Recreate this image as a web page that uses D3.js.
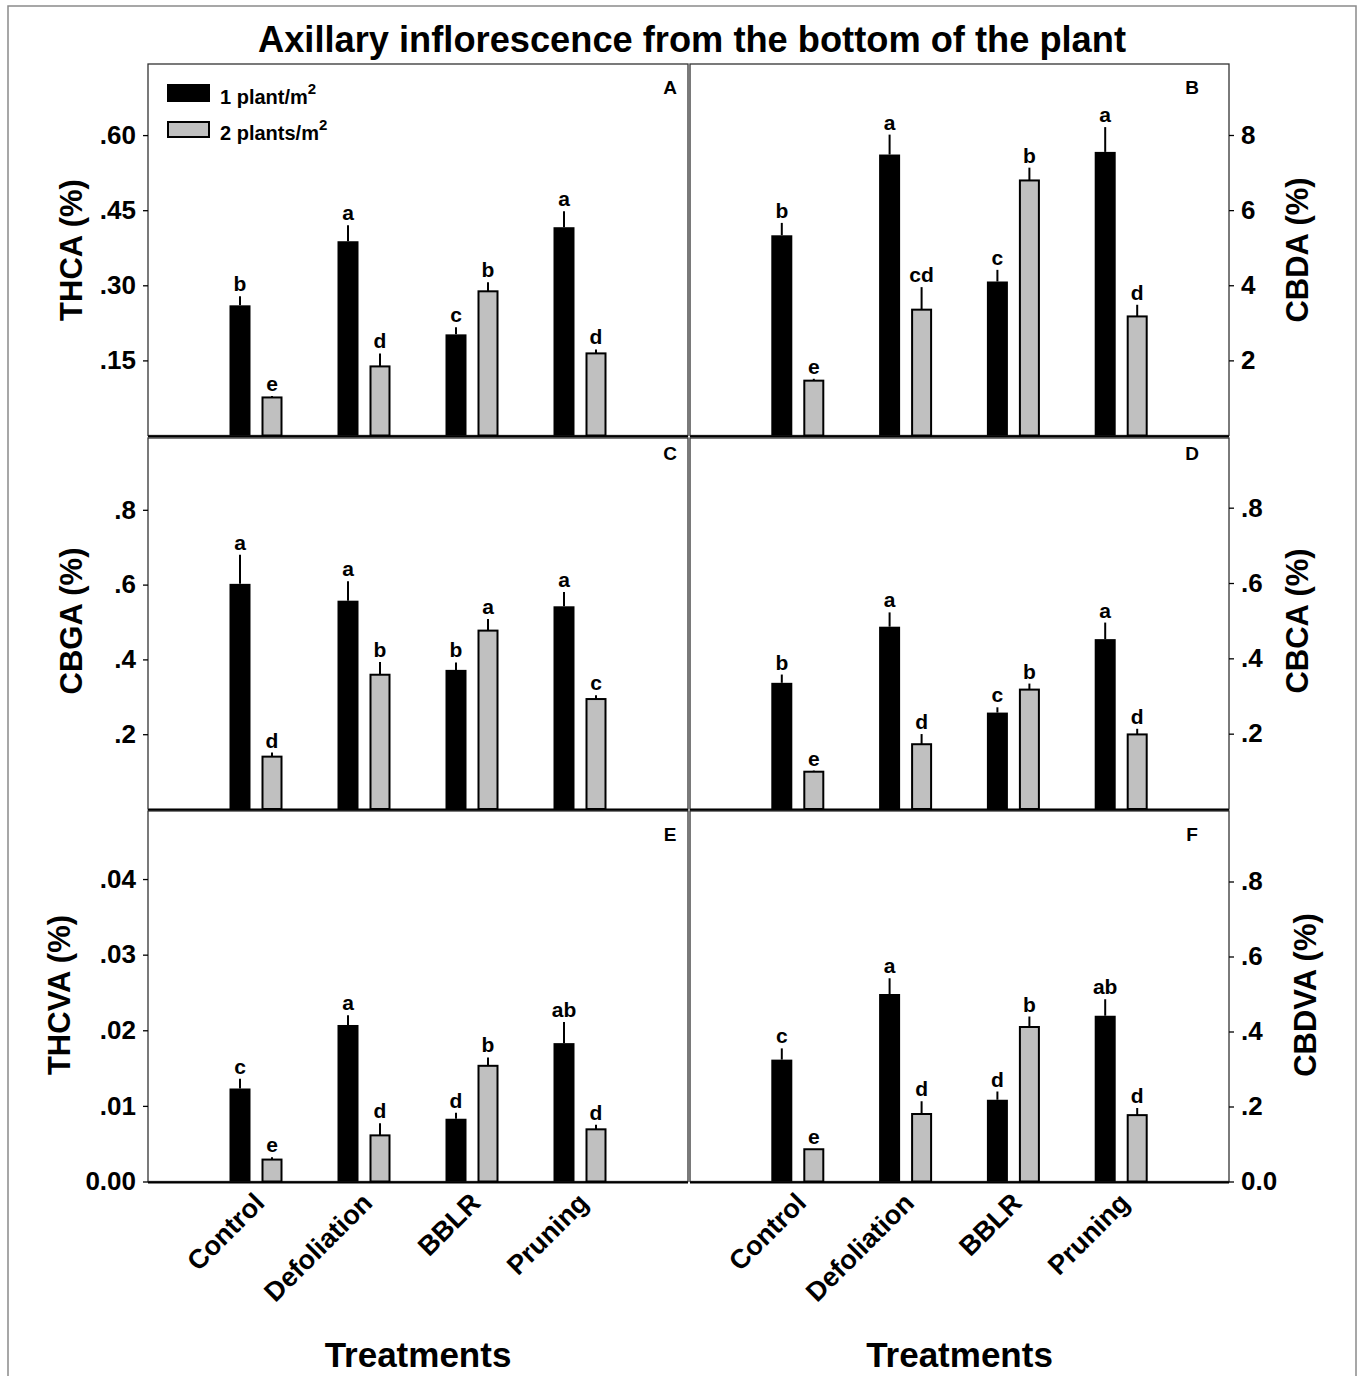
<!DOCTYPE html>
<html><head><meta charset="utf-8">
<script src="https://cdn.jsdelivr.net/npm/d3@7"></script>
<style>
body{margin:0;background:#fff}
svg{display:block}
text{font-family:"Liberation Sans",Arial,Helvetica,sans-serif;font-weight:bold;fill:#000}
</style>
</head><body>
<svg id="chart" width="1360" height="1376"></svg>
<script>
// ---------- data ----------
const treatments = ["Control", "Defoliation", "BBLR", "Pruning"];
const densities = ["1 plant/m", "2 plants/m"];
const chartTitle = "Axillary inflorescence from the bottom of the plant";
const xTitle = "Treatments";

const thca1 = [0.260, 0.388, 0.202, 0.416];
const thca1Err = [0.018, 0.032, 0.014, 0.032];
const thca2 = [0.076, 0.138, 0.288, 0.164];
const thca2Err = [0.003, 0.026, 0.018, 0.008];
const thcaLetters1 = ["b", "a", "c", "a"];
const thcaLetters2 = ["e", "d", "b", "d"];
const thcaTicks = [0.15, 0.30, 0.45, 0.60];
const thcaTickLabels = [".15", ".30", ".45", ".60"];

const cbda1 = [5.33, 7.48, 4.10, 7.55];
const cbda1Err = [0.33, 0.53, 0.31, 0.66];
const cbda2 = [1.46, 3.35, 6.79, 3.17];
const cbda2Err = [0.05, 0.60, 0.34, 0.31];
const cbdaLetters1 = ["b", "a", "c", "a"];
const cbdaLetters2 = ["e", "cd", "b", "d"];
const cbdaTicks = [2, 4, 6, 8];
const cbdaTickLabels = ["2", "4", "6", "8"];

const cbga1 = [0.602, 0.557, 0.372, 0.542];
const cbga1Err = [0.078, 0.052, 0.020, 0.038];
const cbga2 = [0.140, 0.359, 0.477, 0.294];
const cbga2Err = [0.011, 0.034, 0.031, 0.010];
const cbgaLetters1 = ["a", "a", "b", "a"];
const cbgaLetters2 = ["d", "b", "a", "c"];
const cbgaTicks = [0.2, 0.4, 0.6, 0.8];
const cbgaTickLabels = [".2", ".4", ".6", ".8"];

const cbca1 = [0.335, 0.484, 0.256, 0.451];
const cbca1Err = [0.022, 0.038, 0.014, 0.044];
const cbca2 = [0.099, 0.172, 0.317, 0.198];
const cbca2Err = [0.003, 0.027, 0.016, 0.015];
const cbcaLetters1 = ["b", "a", "c", "a"];
const cbcaLetters2 = ["e", "d", "b", "d"];
const cbcaTicks = [0.2, 0.4, 0.6, 0.8];
const cbcaTickLabels = [".2", ".4", ".6", ".8"];

const thcva1 = [0.0123, 0.0207, 0.0083, 0.0183];
const thcva1Err = [0.0013, 0.0013, 0.0008, 0.0028];
const thcva2 = [0.0029, 0.0061, 0.0153, 0.0069];
const thcva2Err = [0.0003, 0.0016, 0.0011, 0.0006];
const thcvaLetters1 = ["c", "a", "d", "ab"];
const thcvaLetters2 = ["e", "d", "b", "d"];
const thcvaTicks = [0, 0.01, 0.02, 0.03, 0.04];
const thcvaTickLabels = ["0.00", ".01", ".02", ".03", ".04"];

const cbdva1 = [0.325, 0.500, 0.218, 0.442];
const cbdva1Err = [0.030, 0.042, 0.022, 0.044];
const cbdva2 = [0.086, 0.180, 0.412, 0.177];
const cbdva2Err = [0.000, 0.034, 0.028, 0.019];
const cbdvaLetters1 = ["c", "a", "d", "ab"];
const cbdvaLetters2 = ["e", "d", "b", "d"];
const cbdvaTicks = [0, 0.2, 0.4, 0.6, 0.8];
const cbdvaTickLabels = ["0.0", ".2", ".4", ".6", ".8"];

// ---------- panel configuration ----------
const panels = [
  {tag:"A", yTitle:"THCA (%)",  v1:thca1,  e1:thca1Err,  v2:thca2,  e2:thca2Err,  l1:thcaLetters1,  l2:thcaLetters2,  ticks:thcaTicks,  tickLabels:thcaTickLabels,  yMax:0.742, col:0, row:0},
  {tag:"B", yTitle:"CBDA (%)",  v1:cbda1,  e1:cbda1Err,  v2:cbda2,  e2:cbda2Err,  l1:cbdaLetters1,  l2:cbdaLetters2,  ticks:cbdaTicks,  tickLabels:cbdaTickLabels,  yMax:9.89,  col:1, row:0},
  {tag:"C", yTitle:"CBGA (%)",  v1:cbga1,  e1:cbga1Err,  v2:cbga2,  e2:cbga2Err,  l1:cbgaLetters1,  l2:cbgaLetters2,  ticks:cbgaTicks,  tickLabels:cbgaTickLabels,  yMax:0.992, col:0, row:1},
  {tag:"D", yTitle:"CBCA (%)",  v1:cbca1,  e1:cbca1Err,  v2:cbca2,  e2:cbca2Err,  l1:cbcaLetters1,  l2:cbcaLetters2,  ticks:cbcaTicks,  tickLabels:cbcaTickLabels,  yMax:0.985, col:1, row:1},
  {tag:"E", yTitle:"THCVA (%)", v1:thcva1, e1:thcva1Err, v2:thcva2, e2:thcva2Err, l1:thcvaLetters1, l2:thcvaLetters2, ticks:thcvaTicks, tickLabels:thcvaTickLabels, yMax:0.049, col:0, row:2},
  {tag:"F", yTitle:"CBDVA (%)", v1:cbdva1, e1:cbdva1Err, v2:cbdva2, e2:cbdva2Err, l1:cbdvaLetters1, l2:cbdvaLetters2, ticks:cbdvaTicks, tickLabels:cbdvaTickLabels, yMax:0.988, col:1, row:2}
];

const colX = [[148, 688], [690, 1229]];
const rowY = [[64, 435.5], [438, 809], [811, 1181.5]];
const tagOffset = [30, 22, 30];
const tagX = [670, 1192];
const yTitleX = {A:82, B:1308, C:82, D:1308, E:70, F:1316};
const yTitleY = [250, 621, 995];

const svg = d3.select("#chart");

// outer frame
svg.append("rect").attr("x", 8).attr("y", 6).attr("width", 1348).attr("height", 1390)
  .attr("fill", "none").attr("stroke", "#8a8a8a").attr("stroke-width", 1.5);

// title
svg.append("text").attr("x", 692).attr("y", 52).attr("text-anchor", "middle")
  .attr("font-size", 37).attr("textLength", 868).attr("lengthAdjust", "spacingAndGlyphs")
  .text(chartTitle);

const barW = 21, barOff = 16;

panels.forEach(p => {
  const [x0, x1] = colX[p.col];
  const [yTop, yZero] = rowY[p.row];
  const x = d3.scaleLinear().domain([0, treatments.length + 1]).range([x0, x1]);
  const y = d3.scaleLinear().domain([0, p.yMax]).range([yZero, yTop]);
  const g = svg.append("g");

  // frame
  g.append("rect").attr("x", x0).attr("y", yTop).attr("width", x1 - x0).attr("height", yZero - yTop)
    .attr("fill", "none").attr("stroke", "#333").attr("stroke-width", 1.3);

  // y axis
  const axis = (p.col === 0 ? d3.axisLeft(y) : d3.axisRight(y))
    .tickValues(p.ticks).tickFormat((d, i) => p.tickLabels[i]).tickSize(5).tickPadding(7);
  const ag = g.append("g").attr("transform", `translate(${p.col === 0 ? x0 : x1},0)`).call(axis);
  ag.select(".domain").remove();
  ag.selectAll(".tick line").attr("stroke", "#000").attr("stroke-width", 1.3);
  ag.selectAll(".tick text").attr("font-size", 26).attr("font-family", '"Liberation Sans",Arial,sans-serif').attr("font-weight", "bold");

  // bars
  const series = [
    {vals:p.v1, errs:p.e1, lets:p.l1, off:-barOff, fill:"#000"},
    {vals:p.v2, errs:p.e2, lets:p.l2, off:barOff, fill:"#c0c0c0"}
  ];
  series.forEach(s => {
    const rows = treatments.map((t, i) => ({i, v:s.vals[i], e:s.errs[i], l:s.lets[i]}));
    g.selectAll(null).data(rows).enter().append("line")
      .attr("x1", d => x(d.i + 1) + s.off).attr("x2", d => x(d.i + 1) + s.off)
      .attr("y1", d => y(d.v)).attr("y2", d => y(d.v + d.e))
      .attr("stroke", "#000").attr("stroke-width", 2);
    g.selectAll(null).data(rows).enter().append("rect")
      .attr("x", d => x(d.i + 1) + s.off - barW / 2 + (s.fill === "#000" ? 0 : 1))
      .attr("width", s.fill === "#000" ? barW : barW - 2)
      .attr("y", d => y(d.v))
      .attr("height", d => yZero - y(d.v))
      .attr("fill", s.fill)
      .attr("stroke", "#000").attr("stroke-width", s.fill === "#000" ? 0 : 2);
    g.selectAll(null).data(rows).enter().append("text")
      .attr("x", d => x(d.i + 1) + s.off).attr("y", d => y(d.v + d.e) - 5)
      .attr("text-anchor", "middle").attr("font-size", 21)
      .text(d => d.l);
  });

  // bottom axis line
  g.append("line").attr("x1", x0).attr("x2", x1).attr("y1", yZero + 1).attr("y2", yZero + 1)
    .attr("stroke", "#000").attr("stroke-width", 2.2);

  // panel tag
  g.append("text").attr("x", tagX[p.col]).attr("y", yTop + tagOffset[p.row])
    .attr("text-anchor", "middle").attr("font-size", 19).text(p.tag);

  // y title
  g.append("text").attr("transform", `translate(${yTitleX[p.tag]},${yTitleY[p.row]}) rotate(-90)`)
    .attr("text-anchor", "middle").attr("font-size", 31).text(p.yTitle);

  // x labels (bottom row)
  if (p.row === 2) {
    g.selectAll(null).data(treatments).enter().append("text")
      .attr("transform", (d, i) => `translate(${x(i + 1) + 10},${yZero + 23}) rotate(-45)`)
      .attr("text-anchor", "end").attr("font-size", 27)
      .text(d => d);
    g.append("text").attr("x", (x0 + x1) / 2).attr("y", 1367).attr("text-anchor", "middle")
      .attr("font-size", 35).text(xTitle);
  }

  // legend (panel A)
  if (p.tag === "A") {
    const lg = g.append("g");
    const fills = ["#000", "#c0c0c0"];
    densities.forEach((d, i) => {
      lg.append("rect").attr("x", 167 + (i ? 1 : 0)).attr("y", 84 + i * 37 + (i ? 1 : 0))
        .attr("width", i ? 41 : 43).attr("height", i ? 15 : 18)
        .attr("fill", fills[i]).attr("stroke", "#000").attr("stroke-width", i ? 2 : 0);
      const t = lg.append("text").attr("x", 220).attr("y", 104 + i * 36).attr("font-size", 20);
      t.append("tspan").text(d);
      t.append("tspan").attr("dy", -10).attr("font-size", 15).text("2");
    });
  }
});
</script>
</body></html>
